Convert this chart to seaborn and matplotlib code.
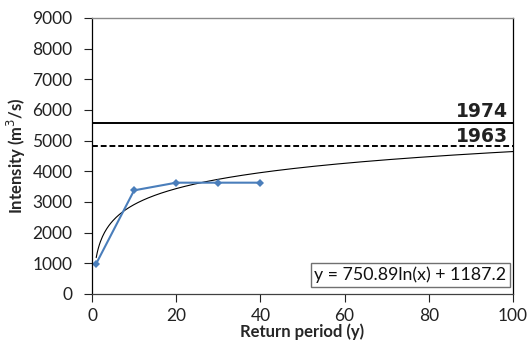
import matplotlib
matplotlib.use("Agg")
import matplotlib.pyplot as plt
import matplotlib.transforms as mtransforms
import numpy as np
import pandas as pd
import seaborn as sns

# Data
return_period = [1, 10, 20, 30, 40]
intensity = [990, 3380, 3630, 3630, 3630]
flood_1974 = 5560
flood_1963 = 4820
trend_a = 750.89
trend_b = 1187.2
trend_label = "y = 750.89ln(x) + 1187.2"
xticks = [0, 20, 40, 60, 80, 100]
yticks = [0, 1000, 2000, 3000, 4000, 5000, 6000, 7000, 8000, 9000]

sns.set_theme(style="ticks")
plt.rcParams['font.family'] = ['Lato', 'DejaVu Sans']

fig = plt.figure(figsize=(5.31, 3.44), dpi=100)
ax = fig.add_axes([92/531, 50/344, 421/531, 276/344])

df = pd.DataFrame({"x": return_period, "y": intensity})
trend_x = np.linspace(1, 100, 400)
trend_df = pd.DataFrame({"x": trend_x, "y": trend_a * np.log(trend_x) + trend_b})

sns.lineplot(data=trend_df, x="x", y="y", ax=ax, color="black", lw=0.8)
sns.lineplot(data=df, x="x", y="y", ax=ax, color="#4A7EBB", lw=1.5,
             marker="D", markersize=4, markeredgewidth=0)

ax.axhline(flood_1974, color="black", lw=1.4)
ax.axhline(flood_1963, color="black", lw=1.4, ls=(0, (3, 1.5)))

trans = mtransforms.blended_transform_factory(ax.transAxes, ax.transData)
ax.text(0.988, flood_1974 + 200, "1974", transform=trans, ha="right", va="baseline",
        fontsize=13.5, fontweight="bold", family="DejaVu Sans", color="#222222")
ax.text(0.988, flood_1963 + 130, "1963", transform=trans, ha="right", va="baseline",
        fontsize=13.5, fontweight="bold", family="DejaVu Sans", color="#222222")

ax.text(0.984, 0.04, trend_label, transform=ax.transAxes, ha="right", va="bottom",
        fontsize=12.8, color="#111111",
        bbox=dict(boxstyle="square,pad=0.2", fc="white", ec="#707070", lw=1))

ax.set_xlim(0, 100)
ax.set_ylim(0, 9000)
ax.set_xticks(xticks)
ax.set_yticks(yticks)
ax.tick_params(axis="both", direction="out", labelsize=12.5, colors="#222222",
               length=6, width=0.8)
ax.tick_params(axis="y", pad=8)
ax.tick_params(axis="x", pad=4)

ax.set_xlabel("Return period (y)", fontsize=12, fontweight="bold", labelpad=0)
ax.set_ylabel("Intensity (m$^3$/s)", fontsize=12, fontweight="bold", labelpad=3)

for s in ["left", "right"]:
    ax.spines[s].set_color("black")
    ax.spines[s].set_linewidth(0.9)
ax.spines["bottom"].set_color("#404040")
ax.spines["bottom"].set_linewidth(0.9)
ax.spines["top"].set_color("#8a8a8a")
ax.spines["top"].set_linewidth(1.0)

fig.savefig("out.png", dpi=100)
